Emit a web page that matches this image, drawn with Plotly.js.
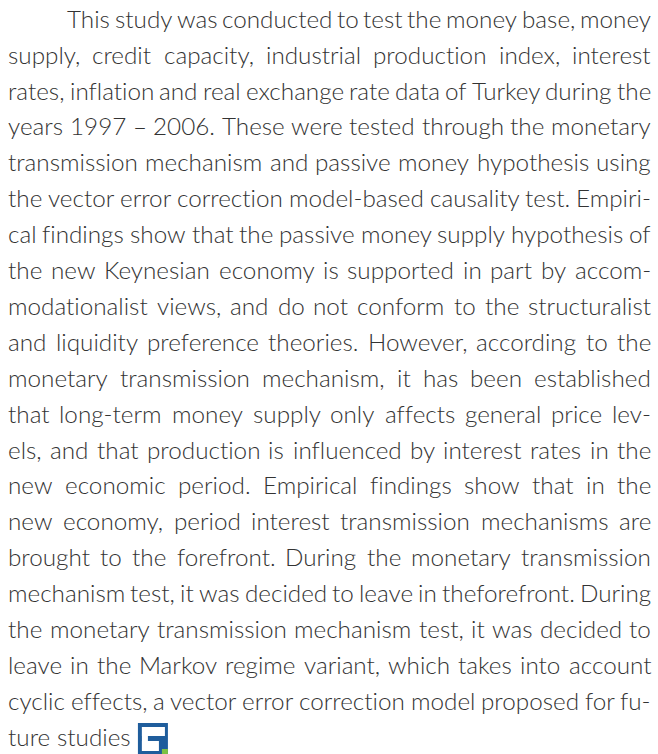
<!DOCTYPE html>
<html>
<head>
<meta charset="utf-8">
<script src="https://cdn.plot.ly/plotly-3.0.1.min.js"></script>
<style>
html,body{margin:0;padding:0;background:#fff;overflow:hidden;}
#chart{width:658px;height:754px;}
text{font-variant-ligatures:none;font-feature-settings:"liga" 0,"clig" 0;}
</style>
</head>
<body>
<div id="chart"></div>
<script>
// Paragraph lines (as they break in the reference)
const lines = [
  "This study was conducted to test the money base, money",
  "supply, credit capacity, industrial production index, interest",
  "rates, inflation and real exchange rate data of Turkey during the",
  "years 1997 – 2006. These were tested through the monetary",
  "transmission mechanism and passive money hypothesis using",
  "the vector error correction model-based causality test.  Empiri-",
  "cal findings show that the passive money supply hypothesis of",
  "the new Keynesian economy is supported in part by accom-",
  "modationalist views, and do not conform to the structuralist",
  "and liquidity preference theories. However, according to the",
  "monetary transmission mechanism, it has been established",
  "that long-term money supply only affects general price lev-",
  "els, and that production is influenced by interest rates in the",
  "new economic period.  Empirical findings show that in the",
  "new economy, period interest transmission mechanisms are",
  "brought to the forefront.  During the monetary transmission",
  "mechanism test, it was decided to leave in theforefront.  During",
  "the monetary transmission mechanism test, it was decided to",
  "leave in the Markov regime variant, which takes into account",
  "cyclic effects, a vector error correction model proposed for fu-",
  "ture studies"
];

const W = 658, H = 754;
const LEFT = 8, RIGHT = 651, INDENT = 59;
const BASE0 = 27, LEAD = 35.9;
const FAMILY = "Lato, 'Open Sans', sans-serif";
const WEIGHT = 300;
const COLOR = "#333333";

// temporary off-screen measuring element (removed after use)
const NS = "http://www.w3.org/2000/svg";
const msvg = document.createElementNS(NS, "svg");
msvg.setAttribute("width", "10"); msvg.setAttribute("height", "10");
msvg.style.position = "absolute"; msvg.style.left = "-20000px"; msvg.style.top = "-20000px";
const mt = document.createElementNS(NS, "text");
msvg.appendChild(mt);
document.body.appendChild(msvg);
function measure(t, fs){
  mt.setAttribute("style", "font-family:" + FAMILY + ";font-size:" + fs + "px;font-weight:" + WEIGHT +
    ";font-variant-ligatures:none;font-feature-settings:'liga' 0,'clig' 0;white-space:pre");
  mt.textContent = t;
  return mt.getComputedTextLength();
}

// choose font size so that every justified line fits with a minimum gap
let FS = 25;
for (let k = 0; k < 40; k++) {
  let ok = true;
  lines.forEach((ln, i) => {
    if (i === lines.length - 1) return;
    const words = ln.split(/\s+/);
    const span = RIGHT - LEFT - (i === 0 ? INDENT : 0);
    const tw = words.reduce((s, w) => s + measure(w, FS), 0);
    if (tw + (words.length - 1) * 0.17 * FS > span) ok = false;
  });
  if (ok) break;
  FS -= 0.25;
}

const annotations = [];
let lastEnd = LEFT;
lines.forEach((ln, i) => {
  const words = ln.split(/\s+/);
  const x0 = LEFT + (i === 0 ? INDENT : 0);
  const span = RIGHT - x0;
  const widths = words.map(w => measure(w, FS));
  const tw = widths.reduce((a, b) => a + b, 0);
  const isLast = i === lines.length - 1;
  const gap = isLast ? 0.27 * FS : (span - tw) / (words.length - 1);
  let x = x0;
  const base = BASE0 + i * LEAD;
  words.forEach((w, j) => {
    annotations.push({
      x: x, y: base - 0.36 * FS, xref: "x", yref: "y",
      text: w, showarrow: false, xanchor: "left", yanchor: "middle",
      borderpad: 0, borderwidth: 0,
      font: {family: FAMILY, size: FS, color: COLOR, weight: WEIGHT}
    });
    x += widths[j] + gap;
  });
  if (isLast) lastEnd = x;
});
msvg.remove();

// small logo after the last line
const lastBase = BASE0 + (lines.length - 1) * LEAD;
const ix = lastEnd + 1, iy = lastBase - 22, S = 30;
const BLUE = "#1f5d9c", GREEN = "#7cc243";
function rect(a, b, c, d, col) {
  return {type: "rect", xref: "x", yref: "y", x0: ix + a, x1: ix + b, y0: iy + c, y1: iy + d,
          fillcolor: col, line: {width: 0}, layer: "above"};
}
const shapes = [
  rect(0, S, 0, S + 2, BLUE),
  rect(4, 27, 4, 13, "#ffffff"),
  rect(4, 10, 4, 28, "#ffffff"),
  rect(4, 21, 18, 28, "#ffffff"),
  rect(24, 30, 26, 32, GREEN)
];

Plotly.newPlot("chart", [{x: [0], y: [0], mode: "markers", marker: {opacity: 0}, hoverinfo: "skip", showlegend: false}], {
  width: W, height: H,
  margin: {l: 0, r: 0, t: 0, b: 0, pad: 0},
  paper_bgcolor: "#ffffff", plot_bgcolor: "#ffffff",
  xaxis: {range: [0, W], visible: false, fixedrange: true},
  yaxis: {range: [H, 0], visible: false, fixedrange: true},
  annotations: annotations,
  shapes: shapes,
  showlegend: false
}, {staticPlot: true, displayModeBar: false});
</script>
</body>
</html>
